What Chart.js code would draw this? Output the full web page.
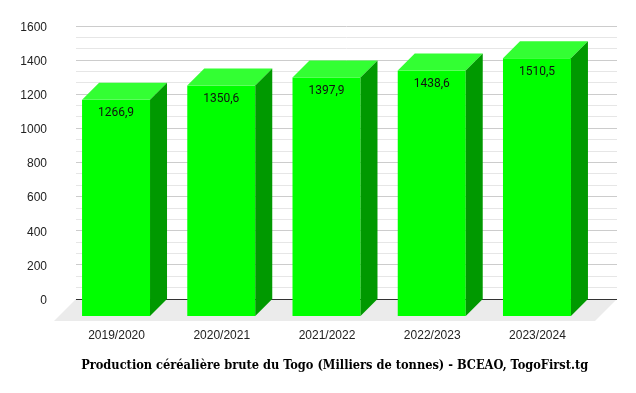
<!DOCTYPE html>
<html>
<head>
<meta charset="utf-8">
<script src="https://cdn.jsdelivr.net/npm/chart.js@4/dist/chart.umd.min.js"></script>
<style>
html,body{margin:0;padding:0;background:#fff;}
#wrap{width:636px;height:393px;position:relative;}
</style>
</head>
<body>
<div id="wrap"><canvas id="c" width="636" height="393"></canvas></div>
<script>
const categories = ["2019/2020", "2020/2021", "2021/2022", "2022/2023", "2023/2024"];
const production = [1266.9, 1350.6, 1397.9, 1438.6, 1510.5];
const yMajorTicks = [0, 200, 400, 600, 800, 1000, 1200, 1400, 1600];
const titleText = "Production céréalière brute du Togo (Milliers de tonnes) - BCEAO, TogoFirst.tg";

const DEPTH = 17;
const FLOOR = 22;

const box3d = {
  id: 'box3d',
  beforeDatasetsDraw(chart) {
    const {ctx, chartArea: a} = chart;
    const y0 = chart.scales.y.getPixelForValue(0);
    ctx.save();
    ctx.fillStyle = '#ebebeb';
    ctx.beginPath();
    ctx.moveTo(a.left, y0);
    ctx.lineTo(a.right, y0);
    ctx.lineTo(a.right - FLOOR, y0 + FLOOR);
    ctx.lineTo(a.left - FLOOR, y0 + FLOOR);
    ctx.closePath();
    ctx.fill();
    ctx.strokeStyle = '#333';
    ctx.lineWidth = 1;
    ctx.beginPath();
    ctx.moveTo(a.left, Math.round(y0) + 0.5);
    ctx.lineTo(a.right, Math.round(y0) + 0.5);
    ctx.stroke();
    ctx.restore();
  },
  afterDatasetsDraw(chart) {
    const {ctx} = chart;
    const xs = chart.scales.x, ys = chart.scales.y;
    const meta = chart.getDatasetMeta(0);
    ctx.save();
    meta.data.forEach((el, i) => {
      const cx = xs.getPixelForValue(i);
      const hw = xs.getPixelForValue(i + 0.323) - cx;
      const yt = ys.getPixelForValue(production[i]);
      const yb = ys.getPixelForValue(0);
      const d = DEPTH;
      ctx.fillStyle = '#00ff00';
      ctx.fillRect(cx - hw - d, yt + d, 2 * hw, yb - yt);
      ctx.fillStyle = '#33ff33';
      ctx.beginPath();
      ctx.moveTo(cx - hw - d, yt + d);
      ctx.lineTo(cx + hw - d, yt + d);
      ctx.lineTo(cx + hw, yt);
      ctx.lineTo(cx - hw, yt);
      ctx.closePath();
      ctx.fill();
      ctx.fillStyle = '#009900';
      ctx.beginPath();
      ctx.moveTo(cx + hw - d, yt + d);
      ctx.lineTo(cx + hw, yt);
      ctx.lineTo(cx + hw, yb);
      ctx.lineTo(cx + hw - d, yb + d);
      ctx.closePath();
      ctx.fill();
      ctx.fillStyle = '#111';
      ctx.font = '12px Roboto';
      ctx.textAlign = 'center';
      ctx.textBaseline = 'middle';
      ctx.fillText(production[i].toFixed(1).replace('.', ','), cx - d, yt + d + 13.5);
    });
    ctx.restore();
  },
  afterDraw(chart) {
    const {ctx} = chart;
    ctx.save();
    ctx.fillStyle = '#000';
    ctx.font = 'bold 12.7px "DejaVu Serif"';
    try { ctx.fontStretch = 'condensed'; } catch (e) {}
    ctx.textAlign = 'center';
    ctx.textBaseline = 'middle';
    ctx.fillText(titleText, 334.7, 366);
    ctx.restore();
  }
};

new Chart(document.getElementById('c'), {
  type: 'bar',
  data: {
    datasets: [{
      data: production.map((v, i) => ({x: i, y: v})),
      backgroundColor: 'rgba(0,0,0,0)',
      borderWidth: 0
    }]
  },
  options: {
    responsive: false,
    animation: false,
    devicePixelRatio: 1,
    layout: {padding: {top: 26, right: 0, bottom: 0, left: 0}},
    plugins: {
      legend: {display: false},
      tooltip: {enabled: false},
      title: {display: false}
    },
    scales: {
      x: {
        type: 'linear',
        offset: false,
        min: -0.542,
        max: 4.599,
        grid: {display: false},
        border: {display: false},
        afterBuildTicks: s => { s.ticks = categories.map((_, i) => ({value: i})); },
        afterFit: s => { s.height = 94; s.paddingLeft = 0; s.paddingRight = 0; },
        ticks: {
          callback: v => categories[v],
          labelOffset: -16.5,
          padding: 21,
          maxRotation: 0,
          autoSkip: false,
          color: '#222',
          font: {family: 'Liberation Sans', size: 12}
        }
      },
      y: {
        min: 0,
        max: 1600,
        afterBuildTicks: s => {
          const t = [];
          for (let k = 0; k <= 24; k++) t.push({value: k * 1600 / 24});
          s.ticks = t;
        },
        afterFit: s => { s.width = 76; s.paddingTop = 0; s.paddingBottom = 0; },
        grid: {
          drawTicks: false,
          color: c => (c.index === 0 ? 'rgba(0,0,0,0)' : (c.index % 3 === 0 ? '#cccccc' : '#e6e6e6')),
          lineWidth: 1
        },
        border: {display: false},
        ticks: {
          padding: 29,
          labelOffset: 1.5,
          autoSkip: false,
          color: '#222',
          font: {family: 'Liberation Sans', size: 12},
          callback: (v, i) => (i % 3 === 0 ? String(yMajorTicks[i / 3]) : '')
        }
      },
      y2: {
        position: 'right',
        min: 0,
        max: 1600,
        display: true,
        grid: {drawOnChartArea: false, drawTicks: false},
        border: {display: false},
        ticks: {display: false},
        afterFit: s => { s.width = 19; s.paddingTop = 0; s.paddingBottom = 0; }
      }
    }
  },
  plugins: [box3d]
});
</script>
</body>
</html>
